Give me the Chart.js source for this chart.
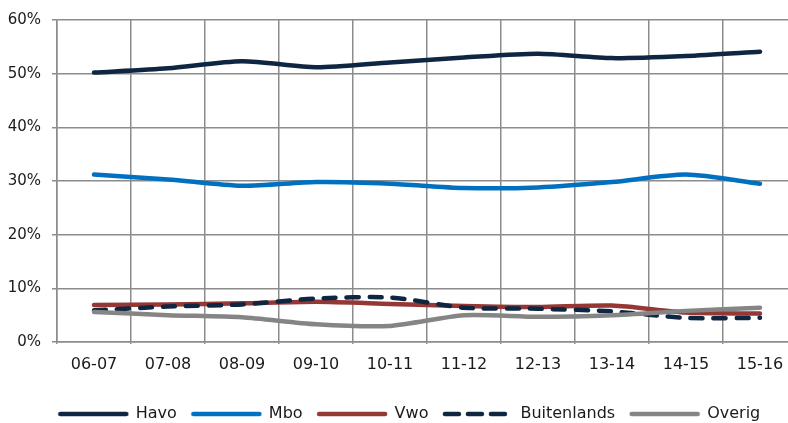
<!DOCTYPE html>
<html>
<head>
<meta charset="utf-8">
<script src="https://cdn.jsdelivr.net/npm/chart.js@4/dist/chart.umd.min.js"></script>
<style>
  html, body { margin: 0; padding: 0; background: #fff; overflow: hidden; }
  #wrap { width: 810px; height: 432px; }
</style>
</head>
<body>
<div id="wrap"><canvas id="chart" width="810" height="432"></canvas></div>
<script>
const years = ["06-07", "07-08", "08-09", "09-10", "10-11", "11-12", "12-13", "13-14", "14-15", "15-16"];

const havo = [50.2, 51.0, 52.3, 51.2, 52.1, 53.0, 53.7, 52.9, 53.3, 54.1];
const mbo = [31.2, 30.3, 29.1, 29.8, 29.5, 28.7, 28.8, 29.8, 31.2, 29.5];
const vwo = [6.9, 7.0, 7.2, 7.5, 7.1, 6.7, 6.5, 6.8, 5.5, 5.3];
const buitenlands = [5.9, 6.6, 7.0, 8.1, 8.3, 6.4, 6.2, 5.7, 4.5, 4.5];
const overig = [5.6, 5.0, 4.6, 3.3, 3.0, 5.0, 4.7, 5.0, 5.8, 6.4];

const gridColor = "#8c8c8c";
const textColor = "#1a1a1a";
const fontFamily = "'DejaVu Sans', Verdana, sans-serif";
const lineWidth = 4.5;

// small line sample used as the legend symbol
function legendIcon(color, dash) {
  const c = document.createElement("canvas");
  c.width = 72;
  c.height = 8;
  const g = c.getContext("2d");
  g.strokeStyle = color;
  g.lineWidth = lineWidth;
  g.lineCap = "round";
  g.setLineDash(dash);
  g.beginPath();
  g.moveTo(3, 4);
  g.lineTo(dash.length ? 66 : 69, 4);
  g.stroke();
  return c;
}

function line(label, data, color, order, dash) {
  return {
    label,
    data,
    borderColor: color,
    backgroundColor: color,
    borderWidth: lineWidth,
    borderDash: dash || [],
    borderCapStyle: "round",
    borderJoinStyle: "round",
    pointRadius: 0,
    pointStyle: legendIcon(color, dash ? [14, 9] : []),
    tension: 0.25,
    order,
  };
}

// the legend sits a bit right of the centre in the original
const shiftLegend = {
  id: "shiftLegend",
  afterLayout(chart) {
    chart.legend.left += 22;
  },
};

new Chart(document.getElementById("chart"), {
  type: "line",
  data: {
    labels: years,
    datasets: [
      line("Havo", havo, "#0e2641", 4),
      line("Mbo", mbo, "#0070c0", 3),
      line("Vwo", vwo, "#953735", 2),
      line("Buitenlands", buitenlands, "#0e2641", 1, [12, 11]),
      line("Overig", overig, "#858585", 0),
    ],
  },
  plugins: [shiftLegend],
  options: {
    responsive: false,
    animation: false,
    layout: {
      padding: { top: 16, right: 13, left: 0, bottom: 0 },
    },
    plugins: {
      legend: {
        position: "bottom",
        labels: {
          usePointStyle: true,
          pointStyleWidth: 69,
          boxWidth: 69,
          padding: 15,
          color: textColor,
          font: { family: fontFamily, size: 16 },
          sort: (a, b) => a.datasetIndex - b.datasetIndex,
        },
      },
      tooltip: { enabled: false },
    },
    scales: {
      x: {
        offset: true,
        afterFit(scale) {
          scale.height = 49;
        },
        grid: {
          offset: true,
          color: gridColor,
          lineWidth: 1.5,
          tickLength: 2,
        },
        border: { color: gridColor, width: 1.5 },
        ticks: {
          color: textColor,
          padding: 11,
          maxRotation: 0,
          font: { family: fontFamily, size: 16 },
        },
      },
      y: {
        min: 0,
        max: 60,
        afterFit(scale) {
          scale.width = 57;
        },
        grid: {
          color: gridColor,
          lineWidth: 1.5,
          tickLength: 5,
        },
        border: { color: gridColor, width: 1.5 },
        ticks: {
          stepSize: 10,
          color: textColor,
          padding: 11,
          font: { family: fontFamily, size: 15 },
          callback(value) {
            return `${value}%`;
          },
        },
      },
    },
  },
});
</script>
</body>
</html>
